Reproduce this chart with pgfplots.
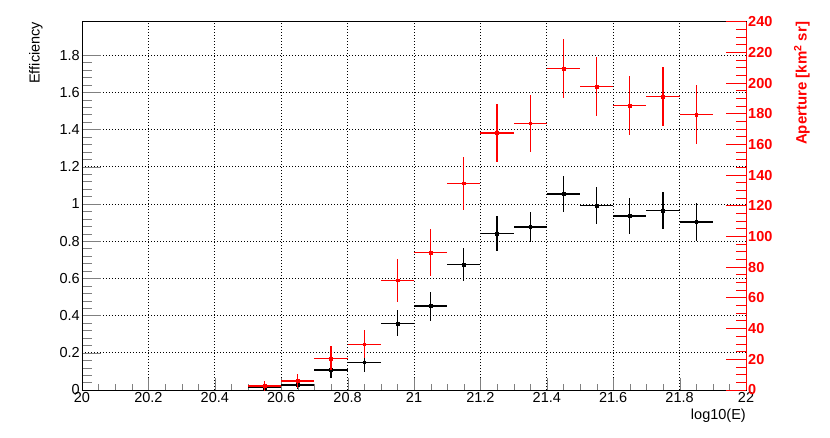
\documentclass[border=0pt]{standalone}
\usepackage{fontspec}
\setmainfont{Liberation Sans}
\usepackage{pgfplots}
\pgfplotsset{compat=1.18}
\definecolor{rootred}{RGB}{255,0,0}

\begin{document}
\begin{tikzpicture}
\useasboundingbox (-82pt,-47pt) rectangle (748pt,390pt);
\pgfplotsset{
  frame/.style={
    at={(0,0)}, anchor=south west,
    scale only axis, width=664pt, height=368.3pt,
    xmin=20, xmax=22,
    tick align=inside,
    ticklabel style={font=\fontsize{14.5}{16}\selectfont},
    label style={font=\fontsize{14.5}{16}\selectfont},
    /pgf/number format/assume math mode=true,
    axis line style={line width=0.9pt},
    grid style={black, line width=0.7pt, dash pattern=on 1pt off 2pt},
  },
  errs/.style={error bars/.cd, x dir=both, x explicit, y dir=both, y explicit,
    error mark=none, error bar style={line width=1.2pt}},
}
% x axis: ticks, labels, vertical grid
\begin{axis}[frame,
  ymin=0, ymax=1.979, ytick=\empty,
  xtick={20,20.2,20.4,20.6,20.8,21,21.2,21.4,21.6,21.8,22},
  minor x tick num=3, xtick pos=left,
  major tick length=12pt, minor tick length=6pt,
  xmajorgrids,
  xticklabel style={inner sep=2pt},
  xlabel={log10(E)},
  xlabel style={at={(rel axis cs:1,0)}, anchor=north east, inner sep=0pt, yshift=-19pt},
]
\end{axis}
% efficiency (left axis)
\begin{axis}[frame,
  ymin=0, ymax=1.979, xtick=\empty,
  ytick={0,0.2,0.4,0.6,0.8,1,1.2,1.4,1.6,1.8},
  minor y tick num=4, ytick pos=left,
  major tick length=19pt, minor tick length=10pt,
  ymajorgrids,
  yticklabel style={inner sep=2pt},
  ylabel={Efficiency},
  ylabel style={at={(axis description cs:-0.0693,1)}, anchor=east, rotate=0, inner sep=0pt},
]
\addplot[black, only marks, mark=square*, mark size=1.4pt, errs] coordinates {
  (20.55,0.012) +- (0.05,0.008)
  (20.65,0.027) +- (0.05,0.020)
  (20.75,0.107) +- (0.05,0.040)
  (20.85,0.149) +- (0.05,0.050)
  (20.95,0.358) +- (0.05,0.070)
  (21.05,0.451) +- (0.05,0.078)
  (21.15,0.675) +- (0.05,0.087)
  (21.25,0.842) +- (0.05,0.094)
  (21.35,0.876) +- (0.05,0.080)
  (21.45,1.053) +- (0.05,0.098)
  (21.55,0.992) +- (0.05,0.098)
  (21.65,0.935) +- (0.05,0.095)
  (21.75,0.964) +- (0.05,0.099)
  (21.85,0.903) +- (0.05,0.100)
};
\end{axis}
% aperture (right axis), in units of 10^3 km^2 sr
\begin{axis}[frame,
  ymin=0, ymax=240,
  axis x line=none, axis y line*=right,
  y axis line style={rootred, line width=1pt},
  ytick={0,20,...,240}, minor y tick num=3,
  ytick style={rootred, line width=0.9pt},
  major tick length=20pt, minor tick length=10pt,
  yticklabel style={font=\fontsize{14.5}{16}\selectfont\bfseries, text=rootred, inner sep=2pt},
  ylabel={Aperture [km\textsuperscript{2} sr]},
  ylabel style={at={(axis description cs:1.0843,1)}, anchor=east, rotate=0,
    inner sep=0pt, text=rootred, font=\fontsize{15}{17}\selectfont\bfseries},
]
\addplot[rootred, only marks, mark=square*, mark size=1.4pt, errs] coordinates {
  (20.55,2.6) +- (0.05,3.0)
  (20.65,5.9) +- (0.05,4.5)
  (20.75,20.6) +- (0.05,7.8)
  (20.85,29.8) +- (0.05,9.2)
  (20.95,71.5) +- (0.05,13.9)
  (21.05,89.7) +- (0.05,15.2)
  (21.15,134.7) +- (0.05,17.4)
  (21.25,167.5) +- (0.05,19.0)
  (21.35,173.8) +- (0.05,18.7)
  (21.45,209.6) +- (0.05,19.0)
  (21.55,197.6) +- (0.05,19.2)
  (21.65,185.3) +- (0.05,19.0)
  (21.75,191.1) +- (0.05,19.2)
  (21.85,179.6) +- (0.05,19.0)
};
\node[anchor=base west, inner sep=0pt, text=rootred, font=\fontsize{14.5}{16}\selectfont]
  at ([xshift=1pt,yshift=4pt]rel axis cs:1,1) {×10\textsuperscript{3}};
\end{axis}
\end{tikzpicture}
\end{document}
